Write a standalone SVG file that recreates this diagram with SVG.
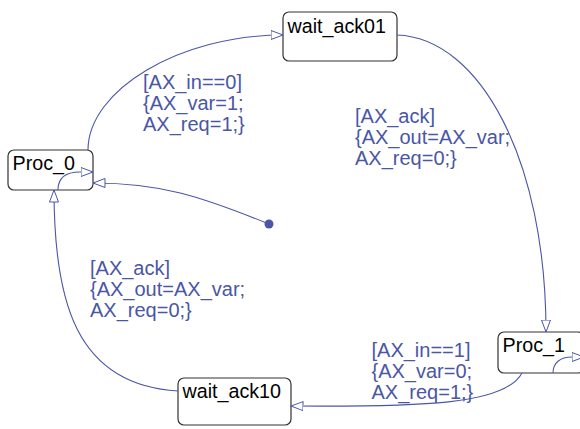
<svg xmlns="http://www.w3.org/2000/svg" width="580" height="429" viewBox="0 0 580 429">
  <defs>
    <style>
      .state { fill: #ffffff; stroke: #333333; stroke-width: 1.2; }
      .name { font-family: "Liberation Sans", Arial, sans-serif; font-size: 19.7px; fill: #000000; }
      .edge { fill: none; stroke: #4a56a6; stroke-width: 1.1; marker-end: url(#open); }
      .label { font-family: "Liberation Sans", Arial, sans-serif; font-size: 20px; fill: #4a56a6; }
    </style>
    <marker id="open" markerUnits="userSpaceOnUse" markerWidth="14" markerHeight="12" refX="12.5" refY="5.5" orient="auto">
      <path d="M0.5,1 L12.5,5.5 L0.5,10 Z" fill="#ffffff" stroke="#4a56a6" stroke-width="1"/>
    </marker>
  </defs>

  <g id="Proc_0">
    <rect class="state" x="8" y="150" width="85" height="40" rx="6"/>
    <text class="name" x="12.5" y="169.5">Proc_0</text>
  </g>
  <g id="wait_ack01">
    <rect class="state" x="283" y="12" width="114" height="49" rx="6"/>
    <text class="name" x="287.5" y="32.5">wait_ack01</text>
  </g>
  <g id="Proc_1">
    <rect class="state" x="498" y="332" width="86" height="41" rx="6"/>
    <text class="name" x="502.5" y="352">Proc_1</text>
  </g>
  <g id="wait_ack10">
    <rect class="state" x="178" y="378" width="113" height="47" rx="6"/>
    <text class="name" x="182.5" y="398">wait_ack10</text>
  </g>

  <g id="connectors">
    <!-- Proc_0 to wait_ack01 -->
    <path class="edge" d="M88,150 C88,90 180,35 283,35"/>
    <!-- wait_ack01 to Proc_1 -->
    <path class="edge" d="M397,35 C480,38 546,160 546,332"/>
    <!-- Proc_1 to wait_ack10 -->
    <path class="edge" d="M522,373 C505,405 420,407 291,406"/>
    <!-- wait_ack10 to Proc_0 -->
    <path class="edge" d="M178,391 C75,385 54,300 54,190"/>
    <!-- initial transition -->
    <path class="edge" d="M269,224 C200,196 160,183 93,183"/>
    <circle cx="269" cy="224" r="4.5" fill="#4a56a6"/>
    <!-- history markers -->
    <path class="edge" d="M58,190 C58,178 66,172 80,172 L93,172"/>
    <path class="edge" d="M553,373 C553,363 560,357 572,357 L584,357"/>
  </g>

  <g id="labels">
    <text class="label" x="143" y="89">[AX_in==0]</text>
    <text class="label" x="143" y="110">{AX_var=1;</text>
    <text class="label" x="143" y="131">AX_req=1;}</text>

    <text class="label" x="355" y="123">[AX_ack]</text>
    <text class="label" x="355" y="144">{AX_out=AX_var;</text>
    <text class="label" x="355" y="165">AX_req=0;}</text>

    <text class="label" x="90" y="275">[AX_ack]</text>
    <text class="label" x="90" y="296">{AX_out=AX_var;</text>
    <text class="label" x="90" y="317">AX_req=0;}</text>

    <text class="label" x="371.5" y="357">[AX_in==1]</text>
    <text class="label" x="371.5" y="378">{AX_var=0;</text>
    <text class="label" x="371.5" y="398.5">AX_req=1;}</text>
  </g>
</svg>
